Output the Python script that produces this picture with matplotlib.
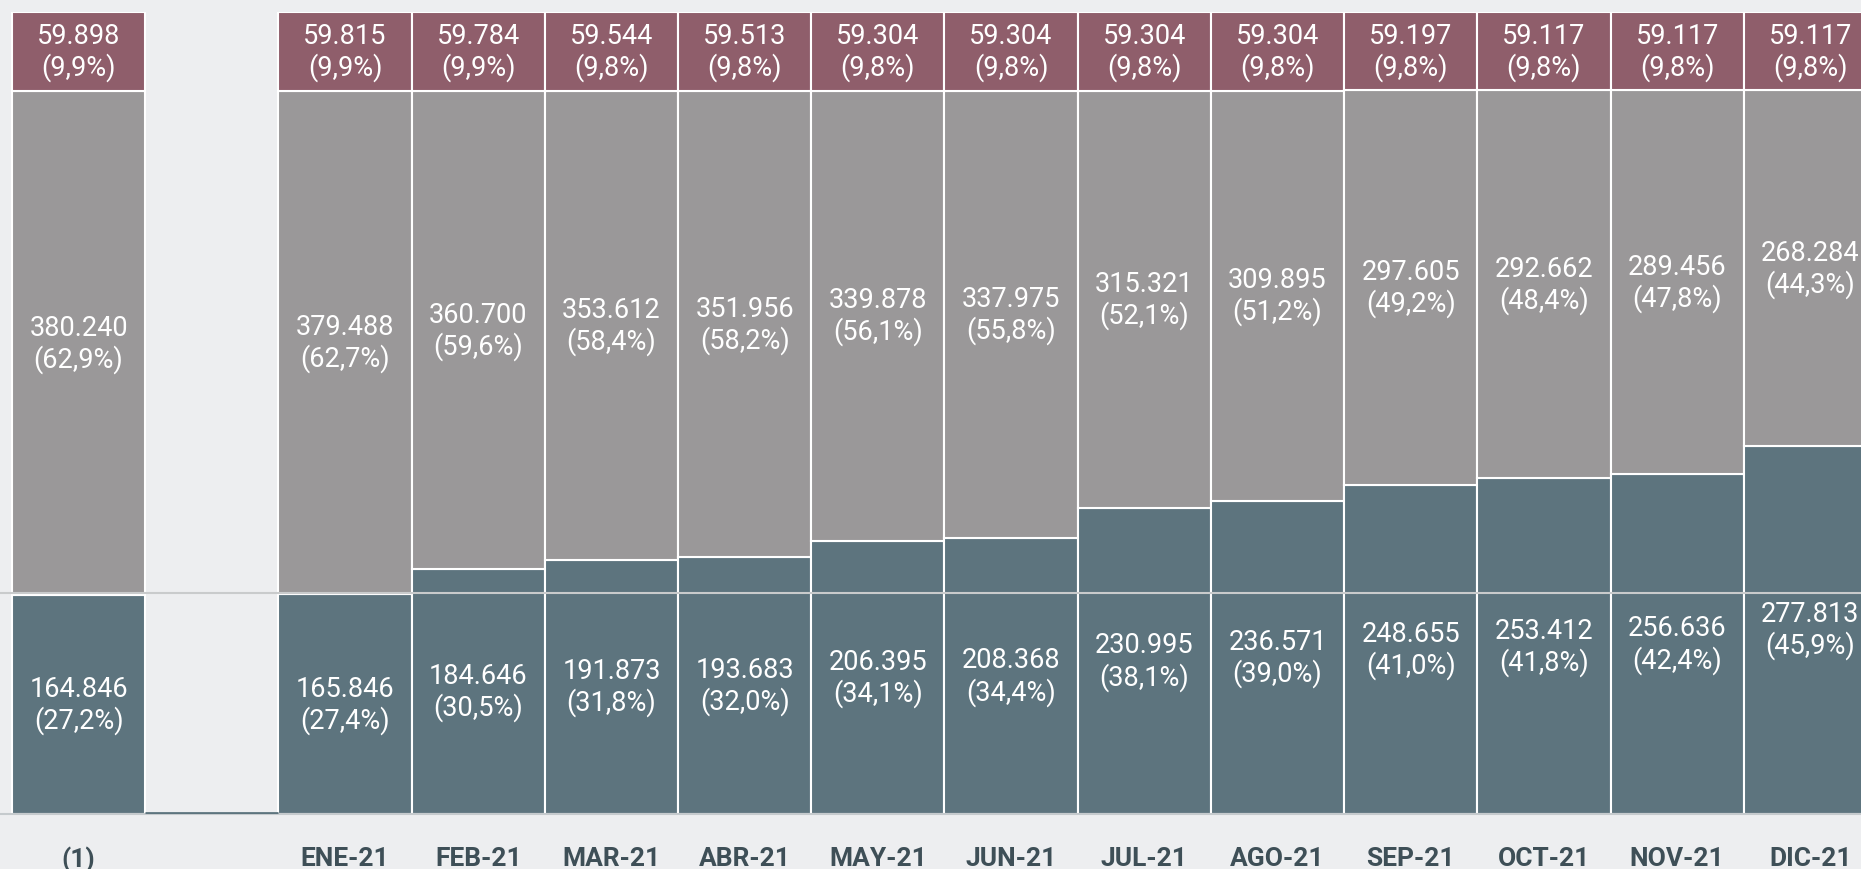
import matplotlib

matplotlib.use("Agg")
import matplotlib.pyplot as plt
import numpy as np

plt.rcParams["font.family"] = ["Roboto", "DejaVu Sans"]

# categorías (la segunda es un hueco vacío)
categorias = ["(1)", "", "ENE-21", "FEB-21", "MAR-21", "ABR-21", "MAY-21", "JUN-21",
              "JUL-21", "AGO-21", "SEP-21", "OCT-21", "NOV-21", "DIC-21"]

inferior = [164846, None, 165846, 184646, 191873, 193683, 206395, 208368,
            230995, 236571, 248655, 253412, 256636, 277813]
medio = [380240, None, 379488, 360700, 353612, 351956, 339878, 337975,
         315321, 309895, 297605, 292662, 289456, 268284]
superior = [59898, None, 59815, 59784, 59544, 59513, 59304, 59304,
            59304, 59304, 59197, 59117, 59117, 59117]

# porcentajes tal como aparecen en las etiquetas
pct_inferior = [27.2, None, 27.4, 30.5, 31.8, 32.0, 34.1, 34.4, 38.1, 39.0, 41.0, 41.8, 42.4, 45.9]
pct_medio = [62.9, None, 62.7, 59.6, 58.4, 58.2, 56.1, 55.8, 52.1, 51.2, 49.2, 48.4, 47.8, 44.3]
pct_superior = [9.9, None, 9.9, 9.9, 9.8, 9.8, 9.8, 9.8, 9.8, 9.8, 9.8, 9.8, 9.8, 9.8]

TEAL = "#5d747e"
GRIS = "#9a9899"
GRANATE = "#8f5e6b"
FONDO = "#edeef0"


def fmt_miles(v):
    return f"{v:,}".replace(",", ".")


def fmt_pct(p):
    return f"({p:.1f}%)".replace(".", ",")


fig = plt.figure(figsize=(18.61, 8.70), dpi=100, facecolor=FONDO)
ax = fig.add_axes([0, 55 / 870, 1, 802 / 870])
ax.set_facecolor(FONDO)

x = np.arange(len(categorias))
for i in x:
    if inferior[i] is None:
        continue
    total = inferior[i] + medio[i] + superior[i]
    base = 0.0
    segs = ((inferior[i], pct_inferior[i], TEAL),
            (medio[i], pct_medio[i], GRIS),
            (superior[i], pct_superior[i], GRANATE))
    for val, pct, col in segs:
        h = val / total * 100
        ax.bar(i, h, bottom=base, width=1.0, color=col, edgecolor="white", linewidth=1.5, zorder=2)
        ax.text(i, base + h / 2, f"{fmt_miles(val)}\n{fmt_pct(pct)}", ha="center", va="center",
                color="white", fontsize=19.5, linespacing=1.15, zorder=4)
        base += h

# línea de referencia horizontal y base del hueco
ax.axhline(27.5, color="#c9cbcc", lw=1.5, zorder=3)
ax.hlines(0.1, 0.5, 1.5, color=TEAL, lw=2, zorder=3)

ax.set_xlim(-0.59, 13.38)
ax.set_ylim(0, 100)
ax.set_xticks(x)
ax.set_xticklabels(categorias, fontsize=19, fontweight="bold", color="#3e4f57")
ax.tick_params(axis="x", length=0, pad=23)
ax.set_yticks([])
for s in ("top", "right", "left"):
    ax.spines[s].set_visible(False)
ax.spines["bottom"].set_color("#c5cacd")
ax.spines["bottom"].set_linewidth(1.5)

fig.savefig("out.png", dpi=100, facecolor=FONDO)
